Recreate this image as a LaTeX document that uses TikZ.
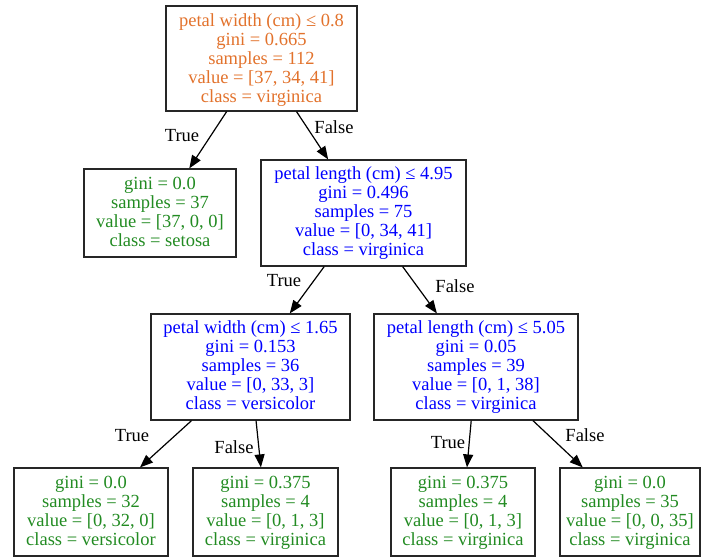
\documentclass[tikz,border=0pt]{standalone}
\usepackage{fontspec}
\setmainfont{Liberation Serif}
\usetikzlibrary{arrows.meta}
\definecolor{splitorange}{RGB}{226,114,44}
\definecolor{splitblue}{RGB}{0,0,255}
\definecolor{leafgreen}{RGB}{34,139,34}
\begin{document}
\begin{tikzpicture}[x=1pt,y=-1pt,
  treebox/.style={draw=black!85,line width=1.2pt,rectangle,inner sep=0pt,
    align=center,font=\fontsize{18.5}{19}\selectfont,text depth=0pt},
  split/.style={treebox,text=splitblue,text height=85pt,minimum height=106pt},
  rootsplit/.style={treebox,text=splitorange,text height=87pt,minimum height=105pt},
  leaf/.style={treebox,text=leafgreen,text height=67pt,minimum height=88pt},
  edge/.style={line width=1.2pt,-{Triangle[length=13pt,width=10pt]}},
  elabel/.style={font=\fontsize{18.5}{19}\selectfont,inner sep=0pt}]
\useasboundingbox (0,0) rectangle (701,557);
% decision nodes
\node[rootsplit,minimum width=191pt] (root) at (261.5,58.5)
  {petal width (cm) ≤ 0.8\\gini = 0.665\\samples = 112\\value = [37, 34, 41]\\class = virginica};
\node[leaf,minimum width=152pt] (setosa) at (160,213)
  {gini = 0.0\\samples = 37\\value = [37, 0, 0]\\class = setosa};
\node[split,minimum width=205pt] (plen) at (363.5,213)
  {petal length (cm) ≤ 4.95\\gini = 0.496\\samples = 75\\value = [0, 34, 41]\\class = virginica};
\node[split,minimum width=199pt] (pwid) at (250.5,367)
  {petal width (cm) ≤ 1.65\\gini = 0.153\\samples = 36\\value = [0, 33, 3]\\class = versicolor};
\node[split,minimum width=204pt] (plen2) at (476,367)
  {petal length (cm) ≤ 5.05\\gini = 0.05\\samples = 39\\value = [0, 1, 38]\\class = virginica};
% leaves
\node[leaf,minimum width=154pt] (leafa) at (91,512)
  {gini = 0.0\\samples = 32\\value = [0, 32, 0]\\class = versicolor};
\node[leaf,minimum width=145pt] (leafb) at (265.5,512)
  {gini = 0.375\\samples = 4\\value = [0, 1, 3]\\class = virginica};
\node[leaf,minimum width=144pt] (leafc) at (463,512)
  {gini = 0.375\\samples = 4\\value = [0, 1, 3]\\class = virginica};
\node[leaf,minimum width=140pt] (leafd) at (630,512)
  {gini = 0.0\\samples = 35\\value = [0, 0, 35]\\class = virginica};
% connectors
\draw[edge] (root) -- (setosa);
\draw[edge] (root) -- (plen);
\draw[edge] (plen) -- (pwid);
\draw[edge] (plen) -- (plen2);
\draw[edge] (pwid) -- (leafa);
\draw[edge] (pwid) -- (leafb);
\draw[edge] (plen2) -- (leafc);
\draw[edge] (plen2) -- (leafd);
% branch labels
\node[elabel] (t1) at (182,136) {True};
\node[elabel] (f1) at (334,127) {False};
\node[elabel] (t2) at (284,281) {True};
\node[elabel] (f2) at (455,286) {False};
\node[elabel] (t3) at (132,436) {True};
\node[elabel] (f3) at (234,447) {False};
\node[elabel] (t4) at (448,443) {True};
\node[elabel] (f4) at (585,435) {False};
\end{tikzpicture}
\end{document}
